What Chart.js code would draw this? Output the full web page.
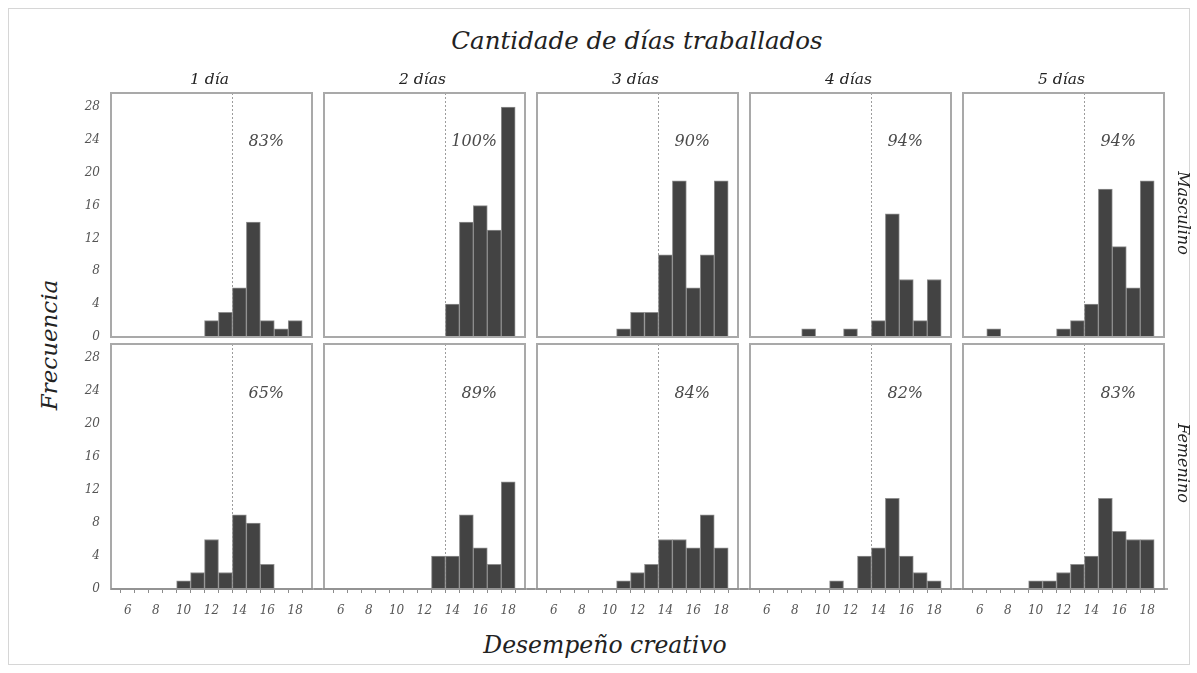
<!DOCTYPE html>
<html>
<head>
<meta charset="utf-8">
<script src="https://cdn.jsdelivr.net/npm/chart.js@4.4.1/dist/chart.umd.min.js"></script>
<style>
  html, body { margin: 0; padding: 0; background: #fff; }
  #fig { position: relative; width: 1197px; height: 673px; overflow: hidden; background: #fff; }
  #frame { position: absolute; left: 8px; top: 8px; width: 1182px; height: 657px; border: 1px solid #d6d6d6; box-sizing: border-box; }
  .lbl { position: absolute; font-family: 'DejaVu Serif', serif; font-style: italic; color: #222; white-space: nowrap; transform: translate(-50%, -50%); }
  canvas { position: absolute; }
</style>
</head>
<body>
<div id="fig"><div id="frame"></div></div>
<script>
// Creative-performance scores (bins) and frequency counts per group
const scores = [6, 7, 8, 9, 10, 11, 12, 13, 14, 15, 16, 17, 18];
const yTickValues = [0, 4, 8, 12, 16, 20, 24, 28];
const dayLabels = ['1 día', '2 días', '3 días', '4 días', '5 días'];
const sexLabels = ['Masculino', 'Femenino'];

// counts for scores 6..18, one array per number of days worked
const masculino1 = [0, 0, 0, 0, 0, 0, 2, 3, 6, 14, 2, 1, 2];
const masculino2 = [0, 0, 0, 0, 0, 0, 0, 0, 4, 14, 16, 13, 28];
const masculino3 = [0, 0, 0, 0, 0, 1, 3, 3, 10, 19, 6, 10, 19];
const masculino4 = [0, 0, 0, 1, 0, 0, 1, 0, 2, 15, 7, 2, 7];
const masculino5 = [0, 1, 0, 0, 0, 0, 1, 2, 4, 18, 11, 6, 19];

const femenino1 = [0, 0, 0, 0, 1, 2, 6, 2, 9, 8, 3, 0, 0];
const femenino2 = [0, 0, 0, 0, 0, 0, 0, 4, 4, 9, 5, 3, 13];
const femenino3 = [0, 0, 0, 0, 0, 1, 2, 3, 6, 6, 5, 9, 5];
const femenino4 = [0, 0, 0, 0, 0, 1, 0, 4, 5, 11, 4, 2, 1];
const femenino5 = [0, 0, 0, 0, 1, 1, 2, 3, 4, 11, 7, 6, 6];

const rows = [
  [masculino1, masculino2, masculino3, masculino4, masculino5],
  [femenino1, femenino2, femenino3, femenino4, femenino5]
];

// cut point between bins 13 and 14; the label gives the share at or above it
const cutoff = 13.5;

// panel geometry (plot areas)
const colLeft = [111, 324, 537, 750, 963];
const panelW = 201;
const rowTop = [93, 344];
const rowH = [244, 245];
const Y_MAX = 29.7;
const X_MIN = 5.35, X_MAX = 18.65;

const SERIF = "'DejaVu Serif', serif";
const fig = document.getElementById('fig');

function addLabel(text, cx, cy, size, rotate) {
  const d = document.createElement('div');
  d.className = 'lbl';
  d.textContent = text;
  d.style.left = cx + 'px';
  d.style.top = cy + 'px';
  d.style.fontSize = size + 'px';
  if (rotate) d.style.transform = 'translate(-50%, -50%) rotate(' + rotate + 'deg)';
  fig.appendChild(d);
}

function shareAbove(counts) {
  let total = 0, above = 0;
  counts.forEach((c, i) => { total += c; if (scores[i] > cutoff) above += c; });
  return Math.round(100 * above / total);
}

const panelDecor = {
  id: 'panelDecor',
  beforeDatasetsDraw(chart) {
    const { ctx, chartArea: a, scales: { x } } = chart;
    const px = Math.round(x.getPixelForValue(cutoff)) + 0.5;
    ctx.save();
    ctx.strokeStyle = '#9c9c9c';
    ctx.lineWidth = 1;
    ctx.setLineDash([2, 2]);
    ctx.beginPath();
    ctx.moveTo(px, a.top);
    ctx.lineTo(px, a.bottom);
    ctx.stroke();
    ctx.restore();
  },
  afterDatasetsDraw(chart, args, opts) {
    const { ctx, chartArea: a, scales: { x, y } } = chart;
    ctx.save();
    ctx.strokeStyle = '#a9a9a9';
    ctx.lineWidth = 2;
    ctx.strokeRect(a.left, a.top, a.right - a.left, a.bottom - a.top);
    if (opts.row === 1) {
      // shared baseline runs across the gaps between panels
      ctx.strokeStyle = '#8c8c8c';
      ctx.lineWidth = 1.5;
      ctx.beginPath();
      ctx.moveTo(opts.col === 0 ? a.left : a.left - 10, a.bottom);
      ctx.lineTo(a.right + (opts.col === 4 ? 4 : 10), a.bottom);
      ctx.stroke();
    }
    ctx.fillStyle = '#4a4a4a';
    ctx.font = 'italic 16px ' + SERIF;
    ctx.textAlign = 'right';
    ctx.textBaseline = 'middle';
    ctx.fillText(opts.pct + '%', x.getPixelForValue(17.2), y.getPixelForValue(23.7));
    ctx.restore();
  }
};

const PAD = 10;
rows.forEach((group, r) => {
  group.forEach((counts, c) => {
    const padL = c === 0 ? 45 : PAD;
    const padB = r === 1 ? 36 : PAD;
    const cv = document.createElement('canvas');
    const w = panelW + padL + PAD;
    const h = rowH[r] + PAD + padB;
    cv.width = w; cv.height = h;
    cv.style.width = w + 'px'; cv.style.height = h + 'px';
    cv.style.left = (colLeft[c] - padL) + 'px';
    cv.style.top = (rowTop[r] - PAD) + 'px';
    fig.appendChild(cv);

    new Chart(cv, {
      type: 'bar',
      data: {
        datasets: [{
          data: scores.map((s, i) => ({ x: s, y: counts[i] > 0 ? counts[i] : null })),
          backgroundColor: '#434343',
          borderColor: '#8e8e8e',
          borderWidth: 1,
          borderSkipped: 'bottom',
          barPercentage: 1,
          categoryPercentage: 1
        }]
      },
      options: {
        responsive: false,
        animation: false,
        devicePixelRatio: 1,
        layout: { padding: { left: PAD, right: PAD, top: PAD, bottom: PAD } },
        plugins: {
          legend: { display: false },
          tooltip: { enabled: false },
          panelDecor: { row: r, col: c, pct: shareAbove(counts) }
        },
        scales: {
          x: {
            type: 'linear',
            min: X_MIN, max: X_MAX,
            display: r === 1,
            afterBuildTicks: s => { s.ticks = scores.map(v => ({ value: v })); },
            afterFit: s => {
              s.height = r === 1 ? 26 : 0;
              s.paddingLeft = 0; s.paddingRight = 0;
            },
            grid: { display: true, drawOnChartArea: false, drawTicks: true, tickLength: 4, color: '#8c8c8c' },
            border: { display: false },
            ticks: {
              autoSkip: false, maxRotation: 0, minRotation: 0, padding: 11,
              color: '#555',
              font: { family: SERIF, style: 'italic', size: 12 },
              callback: v => (v % 2 === 0 ? String(v) : '')
            }
          },
          y: {
            min: 0, max: Y_MAX,
            display: c === 0,
            afterBuildTicks: s => { s.ticks = yTickValues.map(v => ({ value: v })); },
            afterFit: s => {
              s.width = c === 0 ? 35 : 0;
              s.paddingTop = 0; s.paddingBottom = 0;
            },
            grid: { display: false, drawTicks: false },
            border: { display: false },
            ticks: {
              padding: 11,
              color: '#555',
              font: { family: SERIF, style: 'italic', size: 12 }
            }
          }
        }
      },
      plugins: [panelDecor]
    });
  });
});

// titles and strip labels
addLabel('Cantidade de días traballados', 637, 40, 24.5);
dayLabels.forEach((t, c) => addLabel(t, colLeft[c] + panelW / 2 - 2, 79, 15.5));
addLabel(sexLabels[0], 1183, 213, 16, 90);
addLabel(sexLabels[1], 1183, 463, 16, 90);
addLabel('Frecuencia', 49, 345, 23, -90);
addLabel('Desempeño creativo', 605, 645, 23.5);
</script>
</body>
</html>
